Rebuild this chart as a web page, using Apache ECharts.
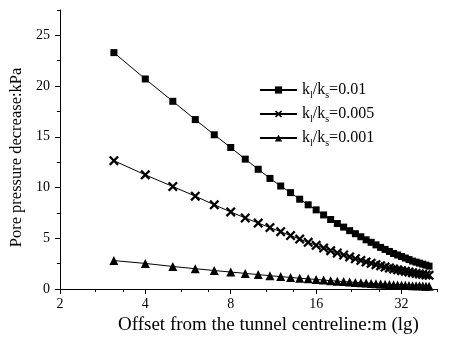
<!DOCTYPE html>
<html>
<head>
<meta charset="utf-8">
<script src="https://cdn.jsdelivr.net/npm/echarts@6/dist/echarts.min.js"></script>
<style>
  html, body { margin: 0; padding: 0; background: #fff; }
  #main { width: 451px; height: 343px; }
</style>
</head>
<body>
<div id="main"></div>
<script>
// offset from tunnel centreline (m)
const offsets = [3.1, 4, 5, 6, 7, 8, 9, 10, 11, 12, 13, 14, 15, 16, 17, 18, 19, 20, 21, 22,
  23, 24, 25, 26, 27, 28, 29, 30, 31, 32, 33, 34, 35, 36, 37, 38, 39, 40]
// pore pressure decrease (kPa)
const ratio001 = [23.3, 20.7, 18.5, 16.7, 15.2, 13.95, 12.8, 11.8, 10.9, 10.15, 9.5, 8.85, 8.3, 7.8,
  7.3, 6.85, 6.45, 6.1, 5.75, 5.45, 5.15, 4.85, 4.6, 4.35, 4.1, 3.9, 3.7, 3.5, 3.35, 3.2,
  3.05, 2.9, 2.75, 2.65, 2.55, 2.45, 2.35, 2.25]
const ratio0005 = [12.65, 11.25, 10.1, 9.15, 8.3, 7.6, 7.0, 6.5, 6.05, 5.65, 5.27, 4.92, 4.6, 4.3,
  4.03, 3.78, 3.55, 3.35, 3.16, 2.98, 2.82, 2.67, 2.53, 2.4, 2.28, 2.17, 2.07, 1.98, 1.89, 1.81,
  1.74, 1.67, 1.6, 1.54, 1.49, 1.44, 1.39, 1.35]
const ratio0001 = [2.8, 2.52, 2.22, 2.0, 1.82, 1.67, 1.54, 1.42, 1.31, 1.22, 1.14, 1.06, 1.0, 0.94,
  0.88, 0.82, 0.77, 0.73, 0.69, 0.65, 0.62, 0.58, 0.55, 0.52, 0.49, 0.47, 0.44, 0.42, 0.4, 0.38,
  0.37, 0.35, 0.33, 0.32, 0.31, 0.29, 0.28, 0.27]
const seriesNames = ['0.01', '0.005', '0.001']

// tick labels
const xMajor = [2, 4, 8, 16, 32]
const xMinor = [2.667, 3.333, 5.333, 6.667, 10.667, 13.333, 21.333, 26.667, 42.667]
const yMajor = [0, 5, 10, 15, 20, 25]
const yMinor = [2.5, 7.5, 12.5, 17.5, 22.5, 27.5]

const FONT = 'Liberation Serif'
const crossPath = 'path://M0,1.6 L1.6,0 L5,3.4 L8.4,0 L10,1.6 L6.6,5 L10,8.4 L8.4,10 L5,6.6 L1.6,10 L0,8.4 L3.4,5 Z'

const chart = echarts.init(document.getElementById('main'))

const pairs = arr => offsets.map((x, i) => [x, arr[i]])

const lineSeries = (name, data, symbol, size) => ({
  name,
  type: 'line',
  data: pairs(data),
  symbol,
  symbolSize: size,
  showAllSymbol: true,
  lineStyle: { color: '#000', width: 1 },
  itemStyle: { color: '#000' }
})

chart.setOption({
  animation: false,
  textStyle: { fontFamily: FONT, color: '#000' },
  grid: { left: 59, right: 14, top: 10, bottom: 54 },
  legend: {
    orient: 'vertical',
    left: 254,
    top: 77,
    itemWidth: 37,
    itemHeight: 9,
    itemGap: 6,
    data: seriesNames,
    formatter: name => `{m|k}{s|l}{m|/k}{s|s}{m|=${name}}`,
    textStyle: {
      fontFamily: FONT,
      color: '#000',
      rich: {
        m: { fontFamily: FONT, fontSize: 16, lineHeight: 16, verticalAlign: 'top', color: '#000' },
        s: { fontFamily: FONT, fontSize: 10, lineHeight: 10, padding: [8, 0, 0, 0], verticalAlign: 'top', color: '#000' }
      }
    }
  },
  xAxis: [
    {
      type: 'log',
      logBase: 2,
      min: 2,
      max: 42.667,
      name: 'Offset from the tunnel centreline:m (lg)',
      nameLocation: 'middle',
      nameGap: 27,
      nameTextStyle: { fontFamily: FONT, fontSize: 19, color: '#000', padding: [0, 0, 0, 40] },
      axisLine: { lineStyle: { color: '#000', width: 1 } },
      splitLine: { show: false },
      axisTick: { show: true, length: 5, customValues: xMajor, lineStyle: { color: '#000' } },
      axisLabel: { customValues: xMajor, fontFamily: FONT, fontSize: 14, color: '#000', margin: 8 },
      minorTick: { show: false }
    },
    {
      type: 'log',
      logBase: 2,
      min: 2,
      max: 42.667,
      position: 'bottom',
      axisLine: { show: false },
      axisLabel: { show: false },
      splitLine: { show: false },
      axisTick: { show: true, length: 3, customValues: xMinor, lineStyle: { color: '#000' } }
    }
  ],
  yAxis: [
    {
      type: 'value',
      min: 0,
      max: 27.5,
      interval: 2.5,
      name: 'Pore pressure decrease:kPa',
      nameLocation: 'middle',
      nameGap: 32,
      nameTextStyle: { fontFamily: FONT, fontSize: 16.5, color: '#000', padding: [0, 16, 0, 0] },
      axisLine: { lineStyle: { color: '#000', width: 1 } },
      splitLine: { show: false },
      axisTick: { show: true, length: 5, customValues: yMajor, lineStyle: { color: '#000' } },
      axisLabel: { customValues: yMajor, fontFamily: FONT, fontSize: 14, color: '#000', margin: 10 }
    },
    {
      type: 'value',
      min: 0,
      max: 27.5,
      interval: 2.5,
      position: 'left',
      axisLine: { show: false },
      axisLabel: { show: false },
      splitLine: { show: false },
      axisTick: { show: true, length: 3, customValues: yMinor, lineStyle: { color: '#000' } }
    }
  ],
  series: [
    lineSeries(seriesNames[0], ratio001, 'rect', 7),
    lineSeries(seriesNames[1], ratio0005, crossPath, 10),
    lineSeries(seriesNames[2], ratio0001, 'triangle', 9)
  ]
})
</script>
</body>
</html>
